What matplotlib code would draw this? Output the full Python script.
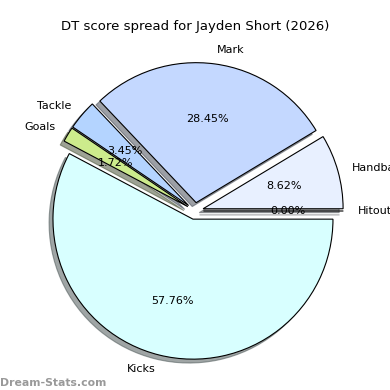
import matplotlib.pyplot as plt

labels = ['Hitout', 'Handball', 'Mark', 'Tackle', 'Goals', 'Kicks']
values = [0, 10, 33, 4, 2, 67]
colors = ['#f0f0ff', '#e8f0ff', '#c4d8ff', '#b4d4ff', '#cceb8c', '#d8ffff']

fig = plt.figure(figsize=(3.9, 3.9), dpi=100)
ax = fig.add_axes([20 / 390, 4 / 390, 350 / 390, 350 / 390])
ax.pie(values, labels=labels, colors=colors, autopct='%1.2f%%',
       explode=[0.06] * len(values), shadow=True, startangle=0,
       wedgeprops={'edgecolor': 'black', 'linewidth': 0.8},
       textprops={'fontsize': 8})
ax.set_title('DT score spread for Jayden Short (2026)', fontsize=9.5, pad=4)
fig.text(0.0, 0.01, 'Dream-Stats.com', fontsize=7.8, color='#999999', fontweight='bold')
fig.savefig('out.png', dpi=100)
